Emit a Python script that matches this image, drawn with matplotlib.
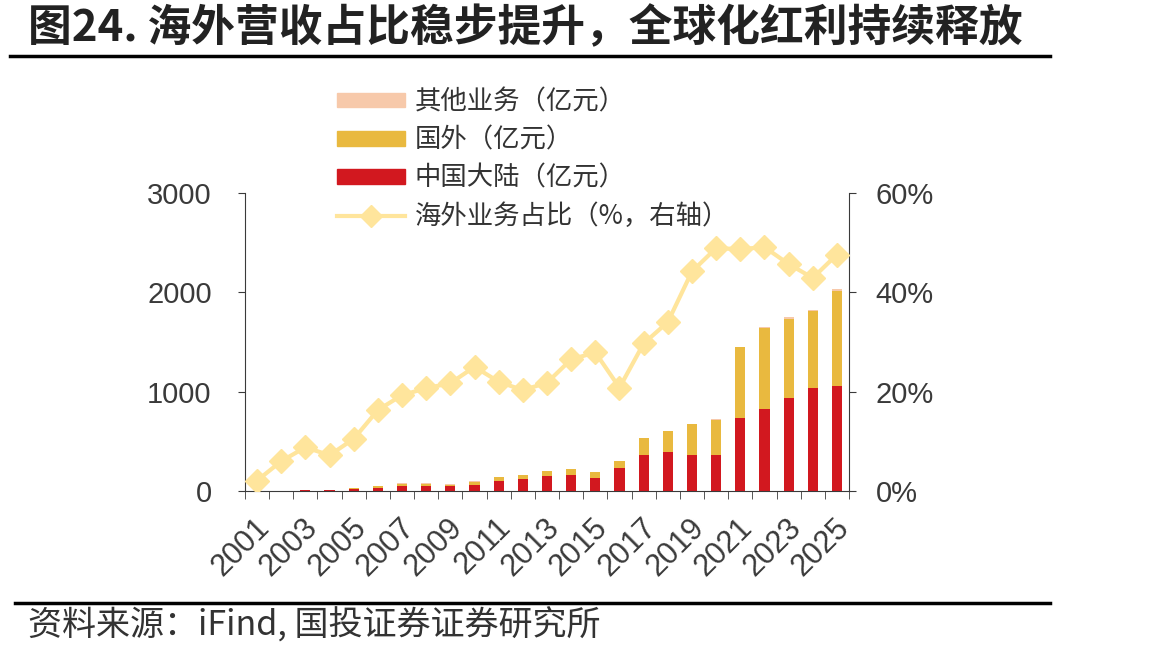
import numpy as np
import matplotlib
matplotlib.use("Agg")
import matplotlib.pyplot as plt
from matplotlib.patches import Patch
from matplotlib.lines import Line2D
from matplotlib.transforms import ScaledTranslation

plt.rcParams['font.family'] = ['Noto Sans CJK SC', 'DejaVu Sans']
plt.rcParams['axes.unicode_minus'] = False

# data (亿元, %)
years = list(range(2001, 2026))
china = [1, 3, 7, 11, 22, 35, 54, 54, 47, 64, 104, 121, 154, 161, 134,
         235, 366, 389, 366, 359, 738, 826, 940, 1034, 1061]
overseas = [1, 1, 2, 3, 5, 12, 21, 21, 16, 31, 32, 38, 45, 58, 55,
            65, 163, 210, 305, 356, 709, 815, 795, 779, 956]
other = [0, 1, 1, 1, 2, 3, 3, 3, 4, 3, 3, 3, 3, 3, 3,
         3, 3, 3, 5, 13, 6, 10, 17, 10, 14]
share = [2.1, 6.0, 8.8, 7.2, 10.5, 16.3, 19.3, 20.7, 21.7, 25.0, 22.0, 20.3, 21.8,
         26.5, 27.9, 20.8, 29.7, 34.0, 44.2, 48.9, 48.7, 49.1, 45.7, 42.9, 47.6]

c_red = '#D2181F'
c_yel = '#E9B93F'
c_oth = '#F7C9AA'
c_line = '#FFE59C'
c_txt = '#3A3A3A'
num_font = 'Liberation Sans'

fig = plt.figure(figsize=(11.67, 6.53), dpi=100)
ax = fig.add_axes([245 / 1167, 1 - 491 / 653, 604 / 1167, 298 / 653])
x = np.arange(len(years))
w = 0.42
ax.bar(x, china, w, color=c_red, zorder=2)
ax.bar(x, overseas, w, bottom=china, color=c_yel, zorder=2)
ax.bar(x, other, w, bottom=np.array(china) + np.array(overseas), color=c_oth, zorder=2)

ax.set_xlim(-0.5, len(years) - 0.5)
ax.set_ylim(0, 3000)
ax.set_yticks([0, 1000, 2000, 3000])
ax.set_xticks(x[::2])
ax.set_xticklabels([str(y) for y in years[::2]], rotation=45, ha='right', va='center',
                   rotation_mode='anchor', fontsize=22, color=c_txt, family=num_font)
ax.set_xticks(np.arange(-0.5, len(years), 1), minor=True)
ax.tick_params(axis='x', which='major', length=0, pad=23)
ax.tick_params(axis='x', which='minor', length=6, color=c_txt, direction='out')
ax.tick_params(axis='y', labelsize=21, colors=c_txt, length=5, pad=19, direction='out')
for lab in ax.get_xticklabels():
    lab.set_transform(lab.get_transform() + ScaledTranslation(0.08, 0, fig.dpi_scale_trans))
for lab in ax.get_yticklabels():
    lab.set_family(num_font)
for s in ['top', 'right']:
    ax.spines[s].set_visible(False)
for s in ['left', 'bottom']:
    ax.spines[s].set_color(c_txt)

ax2 = ax.twinx()
ax2.plot(x, share, color=c_line, lw=3, marker='D', markersize=12, zorder=3)
ax2.set_ylim(0, 60)
ax2.set_yticks([0, 20, 40, 60])
ax2.set_yticklabels(['0%', '20%', '40%', '60%'], family=num_font)
ax2.tick_params(axis='y', labelsize=21, colors=c_txt, length=5, pad=14, direction='out')
for s in ['top', 'left', 'bottom']:
    ax2.spines[s].set_visible(False)
ax2.spines['right'].set_color(c_txt)

handles = [Patch(color=c_oth), Patch(color=c_yel), Patch(color=c_red),
           Line2D([], [], color=c_line, lw=3, marker='D', markersize=11)]
labels = ['其他业务（亿元）', '国外（亿元）', '中国大陆（亿元）', '海外业务占比（%，右轴）']
fig.legend(handles, labels, loc='upper left', bbox_to_anchor=(313 / 1167, 1 - 65 / 653),
           frameon=False, fontsize=19, handlelength=2.58, handleheight=0.45,
           handletextpad=0.38, labelspacing=0.42, labelcolor='#333333')

# title and source
fig.text(28 / 1167, 1 - 28 / 653, '图24. 海外营收占比稳步提升，全球化红利持续释放',
         fontsize=31.5, fontweight='bold', va='center', ha='left', color='#222222')
fig.add_artist(Line2D([10 / 1167, 1050 / 1167], [1 - 56 / 653, 1 - 56 / 653],
                      color='black', lw=2.5))
fig.add_artist(Line2D([15 / 1167, 1050 / 1167], [1 - 603 / 653, 1 - 603 / 653],
                      color='black', lw=2.5))
fig.text(28 / 1167, 1 - 626 / 653, '资料来源：iFind, 国投证券证券研究所',
         fontsize=24.5, style='italic', va='center', ha='left', color='#333333')

fig.savefig('out.png', dpi=100)
